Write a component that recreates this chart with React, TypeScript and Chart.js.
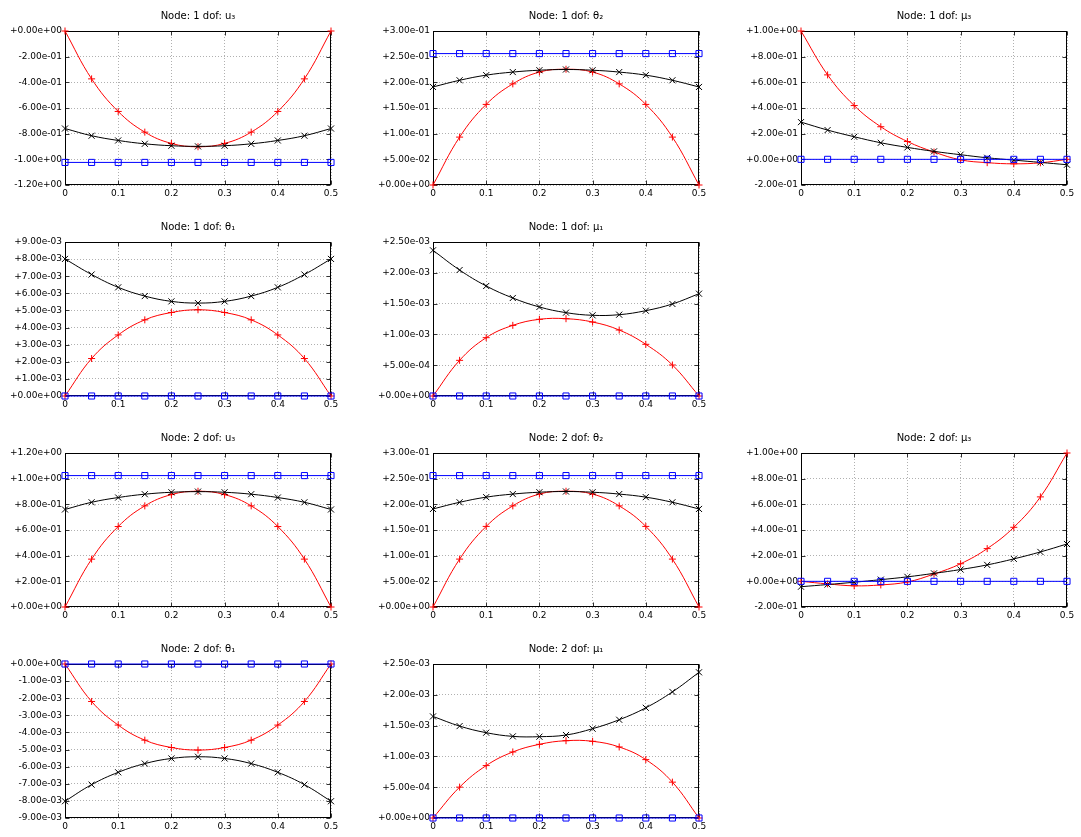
import { useRef, useEffect } from 'react';
import { Chart, registerables, type ChartConfiguration } from 'chart.js';

Chart.register(...registerables);

const xValues = [0, 0.05, 0.1, 0.15, 0.2, 0.25, 0.3, 0.35, 0.4, 0.45, 0.5];

// node 1
const n1u3Red = [0, -0.373, -0.627, -0.788, -0.876, -0.902, -0.876, -0.788, -0.627, -0.373, 0];
const n1u3Black = [-0.76, -0.816, -0.853, -0.879, -0.894, -0.899, -0.894, -0.879, -0.853, -0.816, -0.76];
const n1u3Blue = [-1.024, -1.024, -1.024, -1.024, -1.024, -1.024, -1.024, -1.024, -1.024, -1.024, -1.024];

const n1t2Red = [0, 0.0933, 0.157, 0.197, 0.22, 0.2255, 0.22, 0.197, 0.157, 0.0933, 0];
const n1t2Black = [0.191, 0.204, 0.214, 0.22, 0.2236, 0.225, 0.2236, 0.22, 0.214, 0.204, 0.191];
const n1t2Blue = [0.256, 0.256, 0.256, 0.256, 0.256, 0.256, 0.256, 0.256, 0.256, 0.256, 0.256];

const n1m3Red = [1.0, 0.658, 0.419, 0.254, 0.139, 0.057, -0.004, -0.026, -0.035, -0.027, 0];
const n1m3Black = [0.29, 0.228, 0.176, 0.129, 0.093, 0.062, 0.036, 0.012, -0.006, -0.024, -0.042];

const n1t1Red = [0, 2.19e-3, 3.57e-3, 4.45e-3, 4.88e-3, 5.04e-3, 4.88e-3, 4.45e-3, 3.57e-3, 2.19e-3, 0];
const n1t1Black = [8.01e-3, 7.1e-3, 6.35e-3, 5.84e-3, 5.53e-3, 5.43e-3, 5.53e-3, 5.84e-3, 6.35e-3, 7.1e-3, 8.01e-3];

const n1m1Red = [0, 0.579e-3, 0.947e-3, 1.147e-3, 1.245e-3, 1.255e-3, 1.201e-3, 1.071e-3, 0.839e-3, 0.503e-3, 0];
const n1m1Black = [2.365e-3, 2.045e-3, 1.786e-3, 1.591e-3, 1.445e-3, 1.353e-3, 1.31e-3, 1.32e-3, 1.385e-3, 1.494e-3, 1.661e-3];

// node 2
const n2u3Red = [0, 0.373, 0.627, 0.788, 0.876, 0.902, 0.876, 0.788, 0.627, 0.373, 0];
const n2u3Black = [0.76, 0.816, 0.853, 0.879, 0.894, 0.899, 0.894, 0.879, 0.853, 0.816, 0.76];
const n2u3Blue = [1.024, 1.024, 1.024, 1.024, 1.024, 1.024, 1.024, 1.024, 1.024, 1.024, 1.024];

const n2t2Red = [0, 0.0933, 0.157, 0.197, 0.22, 0.2255, 0.22, 0.197, 0.157, 0.0933, 0];
const n2t2Black = [0.191, 0.204, 0.214, 0.22, 0.2236, 0.225, 0.2236, 0.22, 0.214, 0.204, 0.191];
const n2t2Blue = [0.256, 0.256, 0.256, 0.256, 0.256, 0.256, 0.256, 0.256, 0.256, 0.256, 0.256];

const n2m3Red = [0, -0.02, -0.035, -0.028, -0.005, 0.057, 0.137, 0.255, 0.421, 0.658, 1.0];
const n2m3Black = [-0.042, -0.025, -0.007, 0.013, 0.035, 0.062, 0.092, 0.128, 0.175, 0.229, 0.291];

const n2t1Red = [0, -2.19e-3, -3.57e-3, -4.45e-3, -4.88e-3, -5.03e-3, -4.88e-3, -4.45e-3, -3.57e-3, -2.19e-3, 0];
const n2t1Black = [-8.02e-3, -7.05e-3, -6.33e-3, -5.82e-3, -5.52e-3, -5.42e-3, -5.52e-3, -5.82e-3, -6.33e-3, -7.05e-3, -8.02e-3];

const n2m1Red = [0, 0.501e-3, 0.851e-3, 1.072e-3, 1.196e-3, 1.255e-3, 1.245e-3, 1.153e-3, 0.948e-3, 0.582e-3, 0];
const n2m1Black = [1.649e-3, 1.492e-3, 1.385e-3, 1.325e-3, 1.32e-3, 1.347e-3, 1.45e-3, 1.595e-3, 1.789e-3, 2.047e-3, 2.365e-3];

const zeroBlue = [0, 0, 0, 0, 0, 0, 0, 0, 0, 0, 0];

const FONT = "'DejaVu Sans', sans-serif";

type PanelDef = {
    title: string;
    row: number;
    col: number;
    yMin: number;
    yMax: number;
    yStep: number;
    red: number[];
    black: number[];
    blue: number[];
};

const panels: PanelDef[] = [
    { title: 'Node: 1 dof: u₃', row: 0, col: 0, yMin: -1.2, yMax: 0, yStep: 0.2, red: n1u3Red, black: n1u3Black, blue: n1u3Blue },
    { title: 'Node: 1 dof: θ₂', row: 0, col: 1, yMin: 0, yMax: 0.3, yStep: 0.05, red: n1t2Red, black: n1t2Black, blue: n1t2Blue },
    { title: 'Node: 1 dof: μ₃', row: 0, col: 2, yMin: -0.2, yMax: 1.0, yStep: 0.2, red: n1m3Red, black: n1m3Black, blue: zeroBlue },
    { title: 'Node: 1 dof: θ₁', row: 1, col: 0, yMin: 0, yMax: 9e-3, yStep: 1e-3, red: n1t1Red, black: n1t1Black, blue: zeroBlue },
    { title: 'Node: 1 dof: μ₁', row: 1, col: 1, yMin: 0, yMax: 2.5e-3, yStep: 5e-4, red: n1m1Red, black: n1m1Black, blue: zeroBlue },
    { title: 'Node: 2 dof: u₃', row: 2, col: 0, yMin: 0, yMax: 1.2, yStep: 0.2, red: n2u3Red, black: n2u3Black, blue: n2u3Blue },
    { title: 'Node: 2 dof: θ₂', row: 2, col: 1, yMin: 0, yMax: 0.3, yStep: 0.05, red: n2t2Red, black: n2t2Black, blue: n2t2Blue },
    { title: 'Node: 2 dof: μ₃', row: 2, col: 2, yMin: -0.2, yMax: 1.0, yStep: 0.2, red: n2m3Red, black: n2m3Black, blue: zeroBlue },
    { title: 'Node: 2 dof: θ₁', row: 3, col: 0, yMin: -9e-3, yMax: 0, yStep: 1e-3, red: n2t1Red, black: n2t1Black, blue: zeroBlue },
    { title: 'Node: 2 dof: μ₁', row: 3, col: 1, yMin: 0, yMax: 2.5e-3, yStep: 5e-4, red: n2m1Red, black: n2m1Black, blue: zeroBlue },
];

function fmtExp(value: number) {
    const v = Math.abs(value) < 1e-12 ? 0 : value;
    const s = v.toExponential(2).replace(/e([+-])(\d)$/, 'e$10$2');
    return v >= 0 ? '+' + s : s;
}

// gnuplot-style box with small inward ticks on all four sides
const framePlugin = {
    id: 'frame',
    beforeDatasetsDraw(chart: any) {
        const { ctx, chartArea, scales } = chart;
        const l = Math.round(chartArea.left) + 0.5;
        const t = Math.round(chartArea.top) + 0.5;
        const r = Math.round(chartArea.right) - 0.5;
        const b = Math.round(chartArea.bottom) - 0.5;
        const len = 4;
        ctx.save();
        ctx.strokeStyle = '#333';
        ctx.lineWidth = 1;
        ctx.beginPath();
        scales.x.ticks.forEach((tk: any) => {
            const px = Math.round(scales.x.getPixelForValue(tk.value)) + 0.5;
            ctx.moveTo(px, b); ctx.lineTo(px, b - len);
            ctx.moveTo(px, t); ctx.lineTo(px, t + len);
        });
        scales.y.ticks.forEach((tk: any) => {
            const py = Math.round(scales.y.getPixelForValue(tk.value)) + 0.5;
            ctx.moveTo(l, py); ctx.lineTo(l + len, py);
            ctx.moveTo(r, py); ctx.lineTo(r - len, py);
        });
        ctx.stroke();
        ctx.strokeStyle = '#000';
        ctx.strokeRect(l, t, r - l, b - t);
        ctx.restore();
    }
};

function Panel({ p }: { p: PanelDef }) {
    const chartRef = useRef<HTMLCanvasElement>(null);

    useEffect(() => {
        if (!chartRef.current) return;
        const pts = (arr: number[]) => arr.map((y, i) => ({ x: xValues[i], y }));
        const config = {
            type: 'line',
            data: {
                datasets: [
                    {
                        data: pts(p.blue),
                        borderColor: '#0000ff',
                        borderWidth: 1,
                        pointStyle: 'rect',
                        pointRadius: 4.3,
                        pointBorderWidth: 1,
                        pointBorderColor: '#0000ff',
                        pointBackgroundColor: 'rgba(0,0,0,0)',
                        tension: 0,
                        clip: false,
                    },
                    {
                        data: pts(p.black),
                        borderColor: '#000000',
                        borderWidth: 1,
                        pointStyle: 'crossRot',
                        pointRadius: 4.3,
                        pointBorderWidth: 1,
                        pointBorderColor: '#000000',
                        tension: 0.4,
                        clip: false,
                    },
                    {
                        data: pts(p.red),
                        borderColor: '#ff0000',
                        borderWidth: 1,
                        pointStyle: 'cross',
                        pointRadius: 3.5,
                        pointBorderWidth: 1,
                        pointBorderColor: '#ff0000',
                        tension: 0.4,
                        clip: false,
                    },
                ]
            },
            options: {
                responsive: false,
                animation: false,
                events: [],
                layout: { padding: { left: 0, right: 14, top: 0, bottom: 0 } },
                plugins: {
                    legend: { display: false },
                    tooltip: { enabled: false },
                    title: {
                        display: true,
                        text: p.title,
                        fullSize: false,
                        color: '#000',
                        font: { family: FONT, size: 10, weight: 'normal', lineHeight: 1.2 },
                        padding: { top: 10, bottom: 9 },
                    }
                },
                scales: {
                    x: {
                        type: 'linear',
                        min: 0,
                        max: 0.5,
                        afterFit: (scale: any) => { scale.height = 26; },
                        grid: { color: '#b0b0b0', lineWidth: 1, drawTicks: false },
                        border: { display: false, dash: [1, 2] },
                        ticks: {
                            stepSize: 0.1,
                            padding: 3,
                            color: '#000',
                            font: { family: FONT, size: 9 },
                            maxRotation: 0,
                            autoSkip: false,
                            callback: (v: any) => String(Number(Number(v).toFixed(2))),
                        }
                    },
                    y: {
                        type: 'linear',
                        min: p.yMin,
                        max: p.yMax,
                        afterFit: (scale: any) => { scale.width = 65; },
                        grid: { color: '#b0b0b0', lineWidth: 1, drawTicks: false },
                        border: { display: false, dash: [1, 2] },
                        ticks: {
                            stepSize: p.yStep,
                            padding: 3,
                            color: '#000',
                            font: { family: FONT, size: 9 },
                            autoSkip: false,
                            callback: (v: any) => fmtExp(Number(v)),
                        }
                    }
                }
            },
            plugins: [framePlugin],
        };

        const chart = new Chart(chartRef.current, config as unknown as ChartConfiguration);
        return () => {
            chart.destroy();
        };
    }, [p]);

    return (
        <canvas
            ref={chartRef}
            width={345}
            height={211}
            style={{ position: 'absolute', left: p.col * 368, top: p.row * 211, width: 345, height: 211 }}
        ></canvas>
    );
}

export default function App() {
    return (
        <div style={{ position: 'absolute', left: 0, top: 0, width: 1081, height: 837, overflow: 'hidden', background: '#fff' }}>
            {panels.map((p) => <Panel key={p.title} p={p} />)}
        </div>
    );
}
